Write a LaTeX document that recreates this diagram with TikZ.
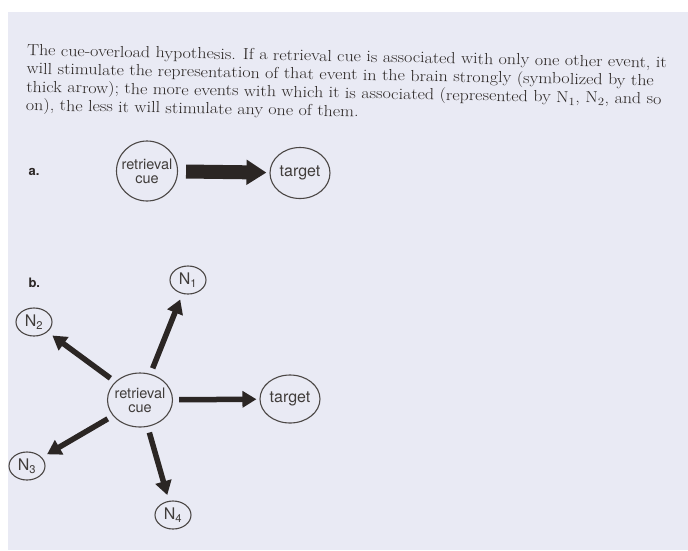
\documentclass[tikz,border=0pt]{standalone}
\usepackage{fontspec}
\newfontfamily\heros{TeX Gyre Heros}
\usetikzlibrary{arrows.meta,shapes.geometric}

\definecolor{paper}{HTML}{E9EAF4}
\definecolor{ink}{HTML}{2B2624}

\begin{document}
\begin{tikzpicture}[x=1pt,y=-1pt,>={Triangle[length=14pt,width=16pt]},
  evt/.style={ellipse,draw=ink!85,line width=1.1pt,inner sep=0pt,text=ink!90,
    font=\heros\fontsize{16}{14.5}\selectfont,align=center},
  cue/.style={evt,inner xsep=-6pt,font=\heros\fontsize{14.5}{14}\selectfont},
  small/.style={evt,minimum width=36pt,minimum height=28pt},
  spoke/.style={->,ink,line width=5.5pt,shorten <=6pt,shorten >=6pt}]

% page
\fill[white] (0,0) rectangle (688,550);
\fill[paper] (8,12) rectangle (688,550);

\node[anchor=north west,inner sep=0pt,rotate=-1.1,xscale=1.125,transform shape,
  align=left,text=ink,font=\fontsize{16}{18.3}\selectfont] (caption) at (27,44)
  {The cue-overload hypothesis. If a retrieval cue is associated with only one other event, it\\
   will stimulate the representation of that event in the brain strongly (symbolized by the\\
   thick arrow); the more events with which it is associated (represented by N\textsubscript{1}, N\textsubscript{2}, and so\\
   on), the less it will stimulate any one of them.};

% a: one event only
\node[anchor=west,text=ink,font=\heros\bfseries\fontsize{13}{13}\selectfont] (lblA) at (25,172) {a.};
\node[cue,minimum width=61pt,minimum height=60pt] (cueA) at (147,171) {retrieval\\cue};
\node[evt,inner xsep=-2pt,minimum width=60pt,minimum height=51pt] (targetA) at (300,173) {target};
\draw[-{Triangle[length=20pt,width=24pt]},ink,line width=14pt,shorten <=8pt,shorten >=3pt]
  (cueA) -- (targetA);

% b: several events
\node[anchor=west,text=ink,font=\heros\bfseries\fontsize{13}{13}\selectfont] (lblB) at (25,283) {b.};
\node[cue,minimum width=65pt,minimum height=54pt] (cueB) at (140,400) {retrieval\\cue};
\node[evt,inner xsep=-2pt,minimum width=60pt,minimum height=48pt] (targetB) at (290,399) {target};
\node[small] (n1) at (188,280) {N\textsubscript{1}};
\node[small] (n2) at (34,322) {N\textsubscript{2}};
\node[small] (n3) at (27,466) {N\textsubscript{3}};
\node[small] (n4) at (173,515) {N\textsubscript{4}};

\foreach \n in {n1,n2,n3,n4}{
  \draw[spoke] (cueB) -- (\n);
}
\draw[spoke,shorten >=3pt] (cueB) -- (targetB);

\end{tikzpicture}
\end{document}
